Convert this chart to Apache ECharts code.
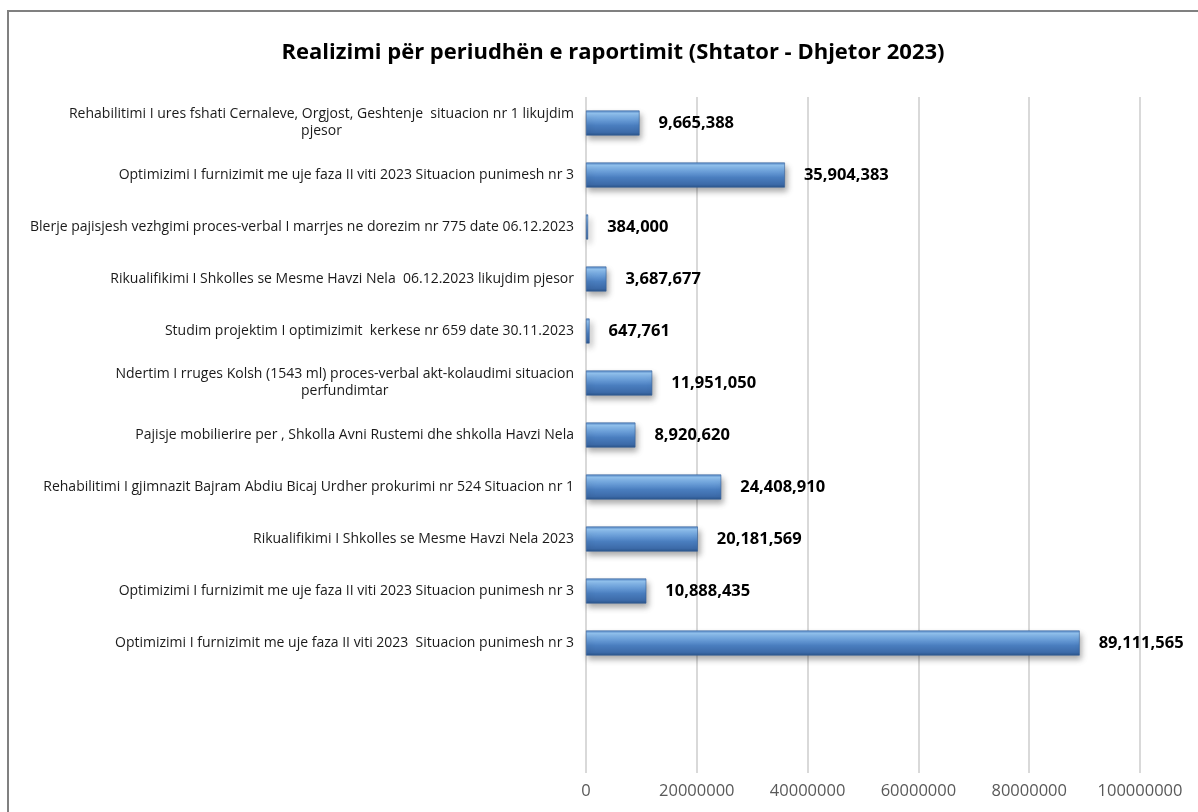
<!DOCTYPE html>
<html>
<head>
<meta charset="utf-8">
<title>Realizimi</title>
<script src="https://cdn.jsdelivr.net/npm/echarts@6/dist/echarts.min.js"></script>
<style>
  html, body { margin: 0; padding: 0; background: #fff; }
  #chart { width: 1198px; height: 812px; }
</style>
</head>
<body>
<div id="chart"></div>
<script>
'use strict';

// projektet, nga lart poshte (dy vende bosh ne fund si ne origjinal)
var projects = [
    'Rehabilitimi I ures fshati Cernaleve, Orgjost, Geshtenje  situacion nr 1 likujdim\npjesor',
    'Optimizimi I furnizimit me uje faza II viti 2023 Situacion punimesh nr 3',
    'Blerje pajisjesh vezhgimi proces-verbal I marrjes ne dorezim nr 775 date 06.12.2023',
    'Rikualifikimi I Shkolles se Mesme Havzi Nela  06.12.2023 likujdim pjesor',
    'Studim projektim I optimizimit  kerkese nr 659 date 30.11.2023',
    'Ndertim I rruges Kolsh (1543 ml) proces-verbal akt-kolaudimi situacion\nperfundimtar',
    'Pajisje mobilierire per , Shkolla Avni Rustemi dhe shkolla Havzi Nela',
    'Rehabilitimi I gjimnazit Bajram Abdiu Bicaj Urdher prokurimi nr 524 Situacion nr 1',
    'Rikualifikimi I Shkolles se Mesme Havzi Nela 2023',
    'Optimizimi I furnizimit me uje faza II viti 2023 Situacion punimesh nr 3',
    'Optimizimi I furnizimit me uje faza II viti 2023  Situacion punimesh nr 3',
    '',
    ''
];

var amounts = [
    9665388,
    35904383,
    384000,
    3687677,
    647761,
    11951050,
    8920620,
    24408910,
    20181569,
    10888435,
    89111565,
    null,
    null
];

var xTicks = [0, 20000000, 40000000, 60000000, 80000000, 100000000];

// etiketat me dy rreshta qendrohen si ne Excel
var wrapLabel = function (text) {
    if (text.indexOf('\n') < 0) {
        return text;
    }
    return text.split('\n').map(function (l) { return '{c|' + l + '}'; }).join('\n');
};

var formatNum = function (v) {
    return String(v).replace(/\B(?=(\d{3})+(?!\d))/g, ',');
};

var myChart = echarts.init(document.getElementById('chart'));

var option = {
    backgroundColor: '#ffffff',
    animation: false,
    title: {
        text: 'Realizimi për periudhën e raportimit (Shtator - Dhjetor 2023)',
        left: 608,
        top: 37,
        textAlign: 'center',
        textStyle: {
            fontFamily: 'Open Sans',
            fontSize: 22,
            fontWeight: 'bold',
            color: '#000000'
        }
    },
    graphic: [{
        type: 'rect',
        shape: { x: 8, y: 11, width: 1400, height: 1000 },
        style: { fill: 'none', stroke: '#808080', lineWidth: 2 },
        silent: true
    }],
    grid: {
        left: 586,
        right: 58,
        top: 97,
        bottom: 39,
        containLabel: false
    },
    xAxis: {
        type: 'value',
        min: 0,
        max: 100000000,
        interval: 20000000,
        axisLine: { show: false },
        axisTick: { show: false },
        splitLine: { lineStyle: { color: '#d9d9d9', width: 2 } },
        axisLabel: {
            color: '#595959',
            fontFamily: 'Open Sans',
            fontSize: 16.5,
            margin: 10,
            formatter: function (v) { return xTicks.indexOf(v) >= 0 ? String(v) : ''; }
        }
    },
    yAxis: {
        type: 'category',
        inverse: true,
        data: projects,
        axisLine: { show: false },
        axisTick: { show: false },
        axisLabel: {
            color: '#1a1a1a',
            fontFamily: 'Open Sans',
            fontSize: 14,
            margin: 12,
            interval: 0,
            align: 'right',
            lineHeight: 17,
            formatter: wrapLabel,
            rich: {
                c: {
                    align: 'center',
                    color: '#1a1a1a',
                    fontFamily: 'Open Sans',
                    fontSize: 14,
                    lineHeight: 17
                }
            }
        }
    },
    series: [{
        type: 'bar',
        data: amounts,
        barWidth: 25,
        itemStyle: {
            color: new echarts.graphic.LinearGradient(0, 0, 0, 1, [
                { offset: 0, color: '#5687c6' },
                { offset: 0.12, color: '#92c3f0' },
                { offset: 0.3, color: '#74a8e0' },
                { offset: 0.6, color: '#4a7ebf' },
                { offset: 0.88, color: '#3c6aa8' },
                { offset: 1, color: '#2a5489' }
            ]),
            borderColor: '#34609a',
            borderWidth: 0.6,
            shadowColor: 'rgba(0,0,0,0.35)',
            shadowBlur: 6,
            shadowOffsetX: 2,
            shadowOffsetY: 4
        },
        label: {
            show: true,
            position: 'right',
            distance: 19,
            color: '#000000',
            fontFamily: 'Open Sans',
            fontSize: 16.5,
            fontWeight: 'bold',
            formatter: function (p) { return formatNum(p.value); }
        }
    }]
};

myChart.setOption(option);
</script>
</body>
</html>
